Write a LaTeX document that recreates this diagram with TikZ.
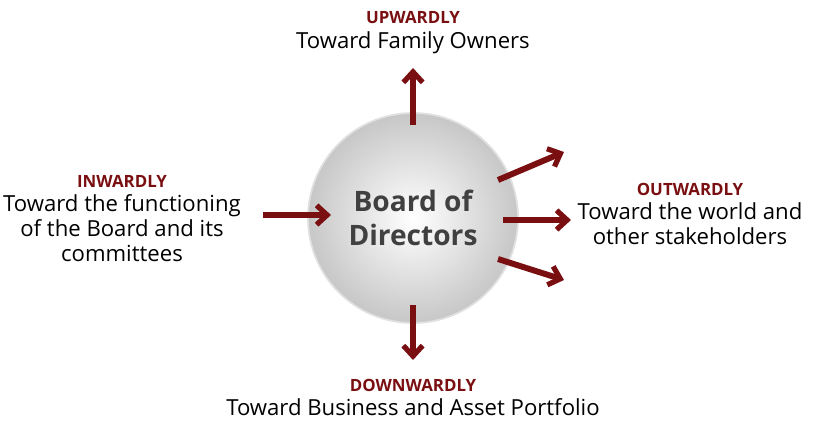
\documentclass[tikz,border=0pt]{standalone}
\usepackage{fontspec}
\setmainfont{Open Sans}
\usetikzlibrary{arrows.meta,positioning}
\definecolor{darkred}{HTML}{7A0F12}
\definecolor{boardgrey}{HTML}{404040}
\tikzset{
  heading/.style={text=darkred,font=\bfseries\fontsize{9.6}{11}\selectfont},
  body/.style={font=\fontsize{12.6}{14.2}\selectfont,align=center},
  flow/.style={darkred,line width=3.4pt,-{Straight Barb[length=6pt,width=11pt,line width=3pt]}}
}
\begin{document}
\begin{tikzpicture}[x=0.02cm,y=-0.02cm]
\useasboundingbox (0,0) rectangle (830,439);
% board in the centre
\shade[inner color=white,outer color=black!22] (413,218) circle (105);
\draw[black!12,line width=1pt] (413,218) circle (105);
\node[font=\bfseries\fontsize{16}{19}\selectfont,text=boardgrey,align=center] (board) at (413,218) {Board of\\Directors};
% labels
\node[heading] (upH) at (413,18) {UPWARDLY};
\node[body,below=-3pt of upH] (upT) {Toward Family Owners};
\node[heading] (inH) at (122,181) {INWARDLY};
\node[body,below=-3pt of inH] (inT) {Toward the functioning\\of the Board and its\\committees};
\node[heading] (outH) at (690,189) {OUTWARDLY};
\node[body,below=-3pt of outH] (outT) {Toward the world and\\other stakeholders};
\node[heading] (downH) at (413,385) {DOWNWARDLY};
\node[body,below=-3pt of downH] (downT) {Toward Business and Asset Portfolio};
% arrow ends
\coordinate (u1) at (413,125); \coordinate (u2) at (413,68);
\coordinate (d1) at (413,305); \coordinate (d2) at (413,360);
\coordinate (i1) at (263,215); \coordinate (i2) at (331,215);
\coordinate (o1) at (503,220); \coordinate (o2) at (571,220);
\coordinate (a1) at (498,180); \coordinate (a2) at (564,152);
\coordinate (b1) at (498,259); \coordinate (b2) at (564,280);
\draw[flow] (u1) -- (u2);
\draw[flow] (d1) -- (d2);
\draw[flow] (i1) -- (i2);
\draw[flow] (o1) -- (o2);
\draw[flow] (a1) -- (a2);
\draw[flow] (b1) -- (b2);
\end{tikzpicture}
\end{document}
